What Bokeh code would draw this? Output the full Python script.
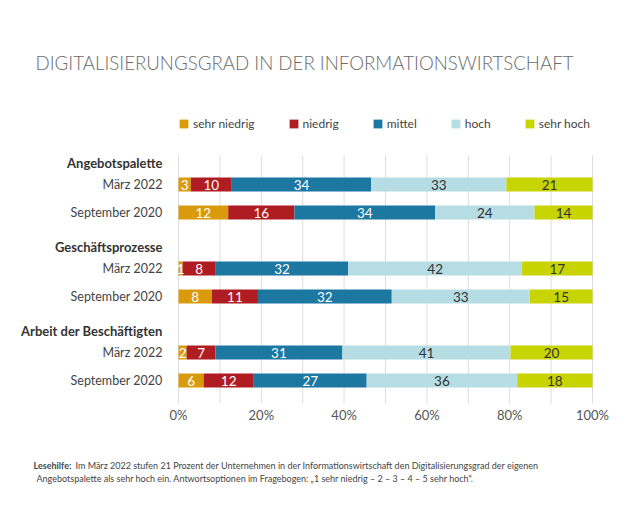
import numpy as np
from bokeh.plotting import figure
from bokeh.models import (ColumnDataSource, Range1d, FixedTicker, PrintfTickFormatter,
                          Label, Legend, LegendItem, LinearAxis)
from bokeh.core.properties import value
from bokeh.embed import file_html
from bokeh.resources import INLINE

# ---- data ----
title = "DIGITALISIERUNGSGRAD IN DER INFORMATIONSWIRTSCHAFT"
groups = ["Angebotspalette", "Geschäftsprozesse", "Arbeit der Beschäftigten"]
periods = ["März 2022", "September 2020"]
levels = ["sehr niedrig", "niedrig", "mittel", "hoch", "sehr hoch"]
sehr_niedrig = [3, 12, 1, 8, 2, 6]
niedrig = [10, 16, 8, 11, 7, 12]
mittel = [34, 34, 32, 32, 31, 27]
hoch = [33, 24, 42, 33, 41, 36]
sehr_hoch = [21, 14, 17, 15, 20, 18]
ticks = [0, 20, 40, 60, 80, 100]
grid_ticks = [0, 10, 20, 30, 40, 50, 60, 70, 80, 90, 100]
note_bold = "Lesehilfe:"
note_line1 = "Im März 2022 stufen 21 Prozent der Unternehmen in der Informationswirtschaft den Digitalisierungsgrad der eigenen"
note_line2 = "Angebotspalette als sehr hoch ein. Antwortsoptionen im Fragebogen: „1 sehr niedrig – 2 – 3 – 4 – 5 sehr hoch“."

colors = ["#D99B0C", "#AF1C21", "#1C77A1", "#B5DDE3", "#C8D400"]
text_colors = ["white", "white", "white", "#333333", "#333333"]
FONT = "Lato"

W, H = 614, 512
# layout: 0 % at px 178, 100 % at px 592; row pitch 28 px, first row at px 184
X0, X100 = 178, 592
PITCH, ROW0 = 28, 184
sx = (X100 - X0) / 100.0

series = [sehr_niedrig, niedrig, mittel, hoch, sehr_hoch]
vals = np.array(series, dtype=float)
pct = vals / vals.sum(axis=0) * 100.0

ys = [g * 3 + r for g in range(len(groups)) for r in range(len(periods))]
row_labels = [periods[r] for g in range(len(groups)) for r in range(len(periods))]

p = figure(width=W, height=H, output_backend="svg", toolbar_location=None,
           x_range=Range1d(-X0 / sx, (W - X0) / sx),
           y_range=Range1d((H - ROW0) / PITCH, -ROW0 / PITCH),
           min_border=0, x_axis_location=None, y_axis_location=None)
p.outline_line_color = None
p.grid.visible = False
p.background_fill_color = "white"
p.border_fill_color = "white"

# grid lines (only across the bar area)
g_top, g_bot = (155 - ROW0) / PITCH, (403 - ROW0) / PITCH
p.segment(x0=grid_ticks, x1=grid_ticks, y0=[g_top] * len(grid_ticks),
          y1=[g_bot] * len(grid_ticks), line_color="#DDDDDD", line_width=1)

data = {"y": ys}
for i, lvl in enumerate(levels):
    data[lvl] = list(pct[i])
src = ColumnDataSource(data)
renderers = p.hbar_stack(levels, y="y", height=0.5, color=colors, source=src,
                         line_color=None)

cum = np.cumsum(pct, axis=0)
for i in range(len(levels)):
    centers = cum[i] - pct[i] / 2
    p.text(x=list(centers), y=ys, text=[str(int(v)) for v in series[i]],
           text_align="center", text_baseline="middle",
           text_font=value(FONT), text_font_size="13.5px", text_color=text_colors[i])

# x axis fixed at the bottom of the bar area
xaxis = LinearAxis(fixed_location=g_bot, ticker=FixedTicker(ticks=ticks),
                   formatter=PrintfTickFormatter(format="%d%%"))
xaxis.axis_line_color = None
xaxis.major_tick_line_color = None
xaxis.minor_tick_line_color = None
xaxis.major_tick_out = 0
xaxis.major_tick_in = 0
xaxis.minor_tick_out = 0
xaxis.major_label_standoff = 3
xaxis.major_label_text_font = FONT
xaxis.major_label_text_font_size = "13px"
xaxis.major_label_text_color = "#555555"
p.add_layout(xaxis, "below")

# row labels and bold group headers
p.text(x=[0] * len(ys), y=ys, text=row_labels, x_offset=-16, text_align="right",
       text_baseline="middle", text_font=value(FONT), text_font_size="12.5px",
       text_color="#444444")
p.text(x=[0] * len(groups), y=[g * 3 - 22 / PITCH for g in range(len(groups))], text=groups,
       x_offset=-16, text_align="right", text_baseline="middle", text_font=value(FONT),
       text_font_size="13px", text_font_style="bold", text_color="#333333")

# legend
legend = Legend(items=[LegendItem(label=l, renderers=[r]) for l, r in zip(levels, renderers)],
                orientation="horizontal", location=(X0, H - 131), padding=0, margin=0,
                spacing=33, glyph_width=11, glyph_height=11, label_height=11,
                label_standoff=4, label_text_font=FONT, label_text_font_size="12px",
                label_text_color="#444444", border_line_color=None,
                background_fill_alpha=0)
p.add_layout(legend)

# title
p.add_layout(Label(x=35, y=H - 62, x_units="screen", y_units="screen", text=title,
                   text_font="Lato Light", text_font_size="18.7px", text_color="#6B6B6B",
                   text_baseline="middle"))

# footnote
p.add_layout(Label(x=33, y=H - 465, x_units="screen", y_units="screen", text=note_bold,
                   text_font=FONT, text_font_style="bold", text_font_size="9px",
                   text_color="#444444", text_baseline="middle"))
p.add_layout(Label(x=75, y=H - 465, x_units="screen", y_units="screen", text=note_line1,
                   text_font=FONT, text_font_size="9px",
                   text_color="#444444", text_baseline="middle"))
p.add_layout(Label(x=36, y=H - 478, x_units="screen", y_units="screen", text=note_line2,
                   text_font=FONT, text_font_size="9px",
                   text_color="#444444", text_baseline="middle"))

open("out.html", "w").write(file_html(p, INLINE))
